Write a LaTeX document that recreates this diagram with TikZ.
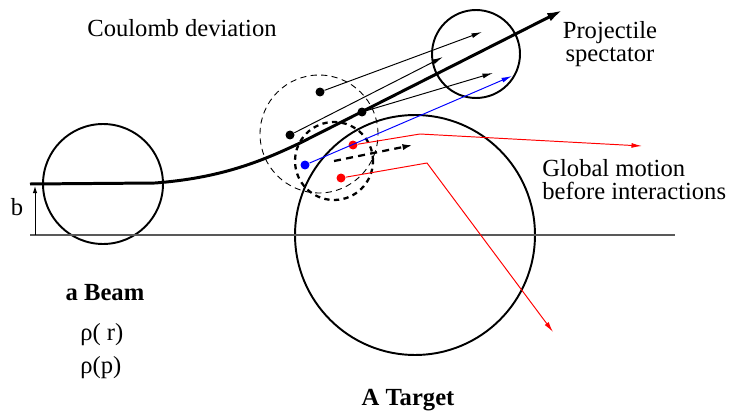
\documentclass[tikz,border=0pt]{standalone}
\usepackage{fontspec}
\setmainfont{Liberation Serif}
\newfontfamily\timesfont{Liberation Serif}
\usepackage{tikz}
\usetikzlibrary{arrows.meta, positioning}
\tikzstyle{nucleus} = [circle, draw=black, line width=1.1pt, inner sep=0pt]
\tikzstyle{cloud} = [circle, draw=black, line width=0.5pt,
    dash pattern=on 3.5pt off 2.5pt, inner sep=0pt]
\tikzstyle{cluster} = [circle, draw=black, line width=1.3pt,
    dash pattern=on 3pt off 2.5pt, inner sep=0pt]
\tikzstyle{nucleon} = [circle, fill=black, inner sep=0pt, minimum size=0.18cm]
\tikzstyle{txt} = [font=\timesfont\fontsize{14}{13}\selectfont, inner sep=0pt]
\tikzstyle{boldtxt} = [font=\timesfont\fontsize{14}{13}\selectfont\bfseries, inner sep=0pt]
\tikzstyle{traj} = [line width=1.7pt, -{Latex[length=9pt, width=5pt]}]
\tikzstyle{arrow} = [line width=0.55pt, -{Latex[length=6pt, width=2.8pt]}]

\begin{document}
\begin{tikzpicture}[x=0.02cm, y=-0.02cm]
  \useasboundingbox (0,0) rectangle (733,412);
  % Nuclei and clouds
  \node[nucleus, minimum size=2.4cm](beam) at (103,184) {};
  \node[nucleus, minimum size=4.8cm](target) at (415,235) {};
  \node[nucleus, minimum size=1.76cm](spect) at (476,54) {};
  \node[cloud, minimum size=2.36cm](cloud) at (319,134) {};
  \node[cluster, minimum size=1.56cm](clus) at (334,161) {};

  % Impact parameter
  \draw[gray!70!black, line width=0.6pt](30,235)--(675,235);
  \coordinate (bfoot) at (35,235);
  \coordinate (bhead) at (35,186);
  \draw[line width=0.5pt, -{Latex[length=4pt, width=2.5pt]}](bfoot)--(bhead);
  \node[txt](blab) at (17,207) {b};

  % Beam trajectory
  \coordinate (start) at (30,184);
  \coordinate (tip) at (563,10);
  \draw[traj](start)--(155,183) .. controls (220,178) and (260,162) .. (300,143)--(tip);

  % Nucleons
  \node[nucleon](n1) at (320,92) {};
  \node[nucleon](n2) at (362,112) {};
  \node[nucleon](n3) at (290,135) {};
  \node[nucleon, fill=blue](n4) at (305,165) {};
  \node[nucleon, fill=red](n5) at (353,145) {};
  \node[nucleon, fill=red](n6) at (341,178) {};

  \coordinate (t1) at (482,32);
  \coordinate (t2) at (443,57);
  \coordinate (t3) at (493,73);
  \coordinate (t4) at (512,76);
  \coordinate (k5) at (420,134);
  \coordinate (t5) at (642,146);
  \coordinate (k6) at (427,163);
  \coordinate (t6) at (553,332);
  \coordinate (t7) at (413,145);

  \draw[arrow](n1)--(t1);
  \draw[arrow](n3)--(t2);
  \draw[arrow](n2)--(t3);
  \draw[arrow, blue](n4)--(t4);
  \draw[arrow, red](n5)--(k5)--(t5);
  \draw[arrow, red](n6)--(k6)--(t6);
  \draw[line width=1.3pt, dash pattern=on 4pt off 3pt,
    -{Latex[length=6pt, width=3.5pt]}](clus.center)--(t7);

  % Labels
  \node[txt](coul) at (182,28) {Coulomb deviation};
  \node[txt, align=center](proj) at (610,44) {Projectile\\spectator};
  \node[txt, align=left, anchor=west](glob) at (542,180) {Global motion\\before interactions};
  \node[boldtxt](abeam) at (105,293) {a Beam};
  \node[txt, anchor=west](rho1) at (80,335) {ρ( r)};
  \node[txt, anchor=west](rho2) at (80,368) {ρ(p)};
  \node[boldtxt](atarg) at (408,400) {A Target};
\end{tikzpicture}
\end{document}
